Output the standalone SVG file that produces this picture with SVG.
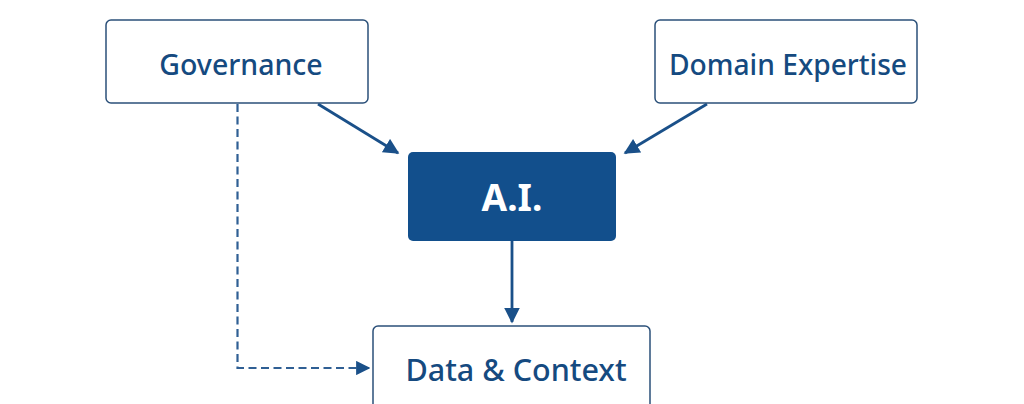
<svg xmlns="http://www.w3.org/2000/svg" width="1024" height="404" viewBox="0 0 1024 404">
<defs>
<style>
.box{fill:#fff;stroke:#2b5079;stroke-width:1.5}
.lbl{font-family:"Noto Sans","Open Sans",sans-serif;font-weight:500;fill:#154a80;text-anchor:middle}
.conn{stroke:#1a5089;stroke-width:2.8;fill:none}
.dash{stroke:#2f5f94;stroke-width:2.2;fill:none;stroke-dasharray:8 4.5}
</style>
<marker id="ah" viewBox="0 0 10 10" refX="9" refY="5" markerWidth="5.8" markerHeight="5.6" markerUnits="strokeWidth" orient="auto">
<path d="M0,0 L10,5 L0,10 z" fill="#1a5089"/>
</marker>
<marker id="ahd" viewBox="0 0 10 10" refX="9" refY="5" markerWidth="6.5" markerHeight="6.5" markerUnits="strokeWidth" orient="auto">
<path d="M0,0 L10,5 L0,10 z" fill="#1a5089"/>
</marker>
</defs>
<rect width="1024" height="404" fill="#fff"/>
<g id="connectors">
<line class="conn" x1="318" y1="104" x2="398" y2="153" marker-end="url(#ah)"/>
<line class="conn" x1="707" y1="104" x2="625" y2="153" marker-end="url(#ah)"/>
<line class="conn" x1="512" y1="241" x2="512" y2="322" marker-end="url(#ah)"/>
<path class="dash" d="M237.5,104 V368 H369" marker-end="url(#ahd)"/>
</g>
<g id="governance">
<rect class="box" x="106" y="20" width="262" height="83" rx="5"/>
<text class="lbl" x="241" y="75" font-size="28.5">Governance</text>
</g>
<g id="domain-expertise">
<rect class="box" x="655" y="20" width="262" height="83" rx="5"/>
<text class="lbl" x="788" y="75" font-size="28.2">Domain Expertise</text>
</g>
<g id="ai">
<rect x="408" y="152" width="208" height="89" rx="5" fill="#124f8c"/>
<text x="512" y="211" font-family="Noto Sans,Open Sans,sans-serif" font-weight="700" font-size="37" fill="#fff" text-anchor="middle">A.I.</text>
</g>
<g id="data-context">
<rect class="box" x="373" y="326" width="277" height="90" rx="5"/>
<text class="lbl" x="516" y="381" font-size="30.5">Data &amp; Context</text>
</g>
</svg>
